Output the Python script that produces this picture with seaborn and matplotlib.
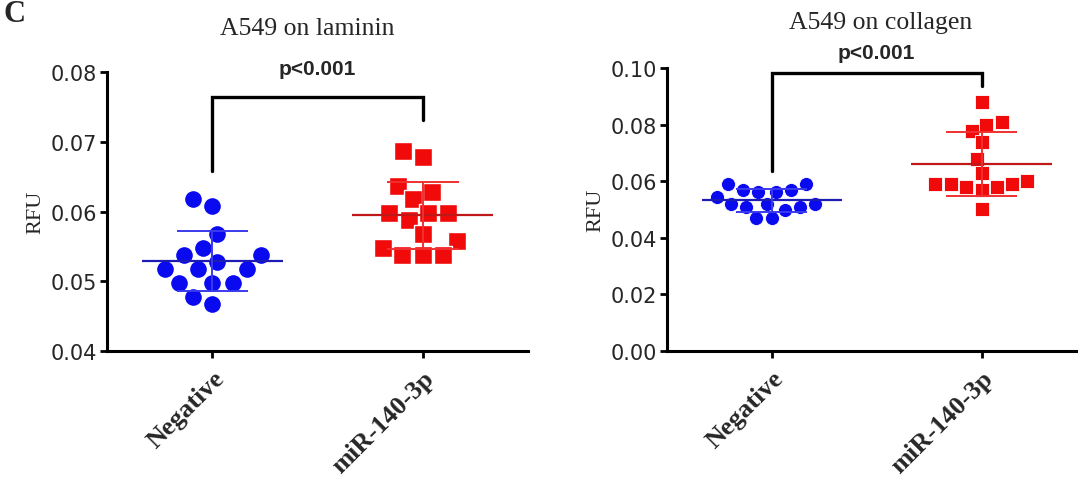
import numpy as np
import pandas as pd
import matplotlib.pyplot as plt
import seaborn as sns

# data (RFU)
groups = ["Negative", "miR-140-3p"]
lam_neg = [0.0618, 0.0608, 0.0568, 0.0548, 0.0538, 0.0538, 0.0528, 0.0518, 0.0518, 0.0518,
           0.0498, 0.0498, 0.0498, 0.0478, 0.0468]
lam_mir = [0.0687, 0.0678, 0.0637, 0.0628, 0.0618, 0.0598, 0.0598, 0.0598, 0.0588, 0.0568,
           0.0558, 0.0548, 0.0538, 0.0538, 0.0538]
col_neg = [0.0590, 0.0590, 0.0569, 0.0562, 0.0562, 0.0569, 0.0543, 0.0519, 0.0509, 0.0498,
           0.0509, 0.0519, 0.0519, 0.0469, 0.0469]
col_mir = [0.0881, 0.0799, 0.0811, 0.0780, 0.0739, 0.0680, 0.0630, 0.0590, 0.0590, 0.0581,
           0.0569, 0.0581, 0.0590, 0.0600, 0.0501]

titles = ["A549 on laminin", "A549 on collagen"]
ptext = "p<0.001"

sns.set_style("ticks")
plt.rcParams['font.family'] = ['DejaVu Sans']

fig = plt.figure(figsize=(10.78, 4.81), dpi=100)
ax1 = fig.add_axes([0.0993, 0.2682, 0.3905, 0.5794])
ax2 = fig.add_axes([0.6187, 0.2682, 0.3813, 0.5877])


def draw_panel(ax, neg, mir, ms, gap, ylim, yticks, title, bracket, title_xy, p_y):
    df = pd.DataFrame({"group": [groups[0]] * len(neg) + [groups[1]] * len(mir),
                       "RFU": neg + mir})
    # thin white edge keeps a small gap between neighbouring points
    sns.swarmplot(data=df[df.group == groups[0]], x="group", y="RFU", order=groups,
                  color="#0a0af0", marker="o", size=ms + gap, linewidth=gap,
                  edgecolor="white", ax=ax)
    sns.swarmplot(data=df[df.group == groups[1]], x="group", y="RFU", order=groups,
                  color="#f00a0a", marker="s", size=ms + gap, linewidth=gap,
                  edgecolor="white", ax=ax)

    # mean +/- SD
    for i, (vals, mcol, scol) in enumerate([(neg, "#1c1cb4", "#3a3aee"),
                                            (mir, "#c01818", "#f03030")]):
        m = np.mean(vals)
        s = np.std(vals, ddof=1)
        ax.hlines(m, i - 0.335, i + 0.335, color=mcol, lw=1.6, zorder=5)
        ax.hlines([m - s, m + s], i - 0.17, i + 0.17, color=scol, lw=1.4, zorder=5)
        ax.vlines(i, m - s, m + s, color=scol, lw=1.4, zorder=5)

    # significance bracket
    top, lleg, rleg = bracket
    ax.plot([0, 0, 1, 1], [lleg, top, top, rleg], color="black", lw=2.4,
            solid_joinstyle="miter", clip_on=False)
    ax.text(0.5, p_y, ptext, ha="center", va="center", fontsize=15,
            fontweight="bold", family="Liberation Sans", clip_on=False)

    ax.set_xlim(-0.5, 1.5)
    ax.set_ylim(*ylim)
    ax.set_yticks(yticks)
    ax.set_yticklabels([f"{t:.2f}" for t in yticks], fontsize=15)
    ax.set_xticks([0, 1])
    ax.set_xticklabels(groups, rotation=45, ha="right", rotation_mode="anchor",
                       fontsize=19, fontweight="bold", family="Liberation Serif")
    ax.set_xlabel("")
    ax.set_ylabel("RFU", fontsize=16, family="Liberation Serif", labelpad=4)
    ax.text(title_xy[0], title_xy[1], title, transform=ax.transAxes, ha="center",
            va="center", fontsize=18.5, family="Liberation Serif")
    for sp in ["top", "right"]:
        ax.spines[sp].set_visible(False)
    for sp in ["left", "bottom"]:
        ax.spines[sp].set_linewidth(2.2)
        ax.spines[sp].set_color("black")
    ax.tick_params(axis="both", width=2.0, length=5, color="black", pad=2)
    ax.tick_params(axis="x", pad=6)


draw_panel(ax1, lam_neg, lam_mir, 12, 1, (0.04, 0.08), [0.04, 0.05, 0.06, 0.07, 0.08],
           titles[0], (0.0764, 0.0659, 0.0731), (0.475, 1.16), 0.0806)
draw_panel(ax2, col_neg, col_mir, 9.5, 0.6, (0.0, 0.10), [0.0, 0.02, 0.04, 0.06, 0.08, 0.10],
           titles[1], (0.0982, 0.0638, 0.0936), (0.52, 1.165), 0.1055)
ax2.set_xlim(-0.5, 1.46)

fig.text(0.003, 0.999, "C", fontsize=22, fontweight="bold", family="Liberation Serif",
         ha="left", va="top")

fig.savefig("out.png", dpi=100)
